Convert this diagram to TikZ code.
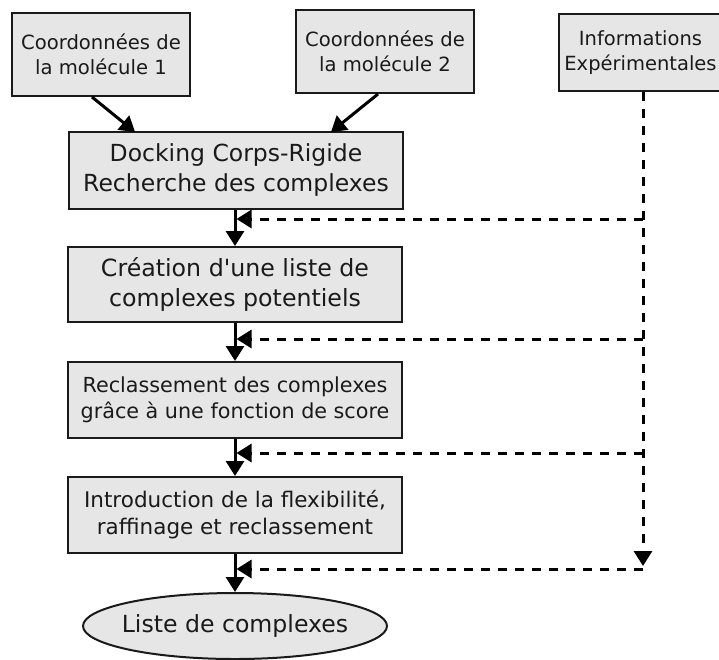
\documentclass[tikz,border=0pt]{standalone}
\usepackage{fontspec}
\setmainfont{DejaVu Sans}
\newfontfamily\apfont{DejaVu Sans}
\usetikzlibrary{arrows.meta,shapes.geometric,calc}
\definecolor{boxfill}{HTML}{E6E6E6}
\definecolor{ink}{HTML}{1A1A1A}
\tikzset{
  box/.style={draw=ink, fill=boxfill, line width=2pt, align=center, inner sep=0pt, text=ink},
  arr/.style={draw=black, line width=3pt, -{Triangle[length=15pt,width=18pt]}},
  darr/.style={draw=black, line width=3pt, dash pattern=on 9pt off 8pt, -{Triangle[length=15pt,width=18pt]}},
}
\begin{document}
\begin{tikzpicture}[x=1pt,y=-1pt]
\useasboundingbox (0,0) rectangle (719,659);
\fill[white] (0,0) rectangle (719,659);
\node[box, minimum width=178pt, minimum height=83pt, font=\fontsize{19.6}{25}\selectfont] (b1) at (101,54.5) {Coordonnées de\\la molécule 1};
\node[box, minimum width=178pt, minimum height=83pt, font=\fontsize{19.6}{25}\selectfont] (b2) at (385,51.5) {Coordonnées de\\la molécule 2};
\node[box, minimum width=163pt, minimum height=77pt, font=\fontsize{19.5}{25}\selectfont] (b3) at (640.5,52.5) {Informations\\Expérimentales};
\node[box, minimum width=334pt, minimum height=77pt, font=\fontsize{23.5}{30}\selectfont] (dock) at (236,170.5) {Docking Corps-Rigide\\Recherche des complexes};
\node[box, minimum width=334pt, minimum height=75pt, font=\fontsize{23.7}{30}\selectfont] (crea) at (235,284.5) {Création d{\apfont'}une liste de\\complexes potentiels};
\node[box, minimum width=334pt, minimum height=76pt, font=\fontsize{20.7}{26}\selectfont] (recl) at (235,400) {Reclassement des complexes\\grâce à une fonction de score};
\node[box, minimum width=334pt, minimum height=76pt, font=\fontsize{21.5}{27}\selectfont] (intro) at (235,515) {Introduction de la flexibilité,\\raffinage et reclassement};
\node[box, ellipse, minimum width=304pt, minimum height=66pt, inner xsep=-8pt, inner ysep=0pt, font=\fontsize{23.6}{30}\selectfont] (res) at (235,626) {Liste de complexes};
% top arrows
\coordinate (t1) at (135,132);
\coordinate (t2) at (331,132);
\draw[arr] ($(b1.south)+(-9,0)$) -- (t1);
\draw[arr] ($(b2.south)+(-7,0)$) -- (t2);
% main flow
\draw[arr] (dock.south -| crea.north) -- (crea.north);
\draw[arr] (crea.south) -- (recl.north);
\draw[arr] (recl.south) -- (intro.north);
\draw[arr] (intro.south) -- (res.north);
% dashed feedback
\coordinate (h1) at (643,219);
\coordinate (h2) at (643,339);
\coordinate (h3) at (643,453);
\coordinate (h4) at (643,569);
\coordinate (vend) at (643,566);
\draw[darr] (b3.south -| h1) -- (vend);
\draw[darr, shorten >=1.5pt] (h1) -- (h1 -| crea.north);
\draw[darr, shorten >=1.5pt] (h2) -- (h2 -| crea.north);
\draw[darr, shorten >=1.5pt] (h3) -- (h3 -| crea.north);
\draw[darr, shorten >=1.5pt] (h4) -- (h4 -| crea.north);
\end{tikzpicture}
\end{document}
